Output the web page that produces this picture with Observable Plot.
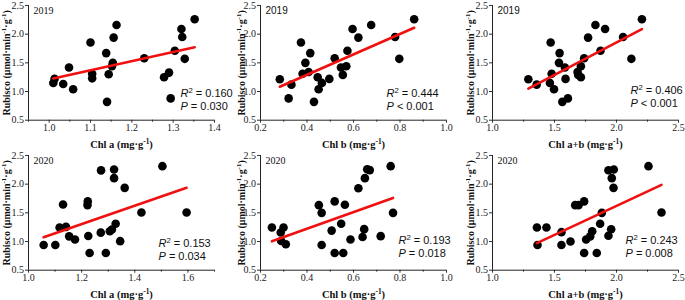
<!DOCTYPE html>
<html><head><meta charset="utf-8">
<script src="https://cdn.jsdelivr.net/npm/d3@7"></script>
<script src="https://cdn.jsdelivr.net/npm/@observablehq/plot@0.6"></script>
<style>
body{margin:0;background:#fff;}
#chart{position:relative;width:685px;height:300px;overflow:hidden;background:#fff;}
#chart svg{position:absolute;overflow:visible;}
</style></head><body><div id="chart"></div>
<script>
// ---- data ----
const chlA2019 = [1.010,1.013,1.034,1.048,1.058,1.100,1.104,1.104,1.138,1.140,1.144,1.152,1.154,1.156,1.163,1.230,1.278,1.290,1.294,1.304,1.320,1.322,1.328,1.352];
const rubA2019 = [1.15,1.22,1.13,1.42,1.04,1.855,1.31,1.23,1.67,0.82,1.30,1.44,1.50,1.94,2.16,1.58,1.25,1.33,0.88,1.71,2.09,1.95,1.57,2.26];
const chlB2019 = [0.283,0.321,0.333,0.374,0.381,0.393,0.407,0.414,0.430,0.446,0.450,0.464,0.496,0.519,0.546,0.554,0.569,0.574,0.596,0.621,0.676,0.779,0.797,0.861];
const rubB2019 = [1.215,0.88,1.12,1.855,1.31,1.50,1.34,1.67,0.82,1.25,1.04,1.15,1.22,1.58,1.42,1.29,1.44,1.71,2.09,1.94,2.16,1.95,1.57,2.26];
const chlAB2019 = [1.289,1.356,1.469,1.463,1.477,1.496,1.541,1.536,1.563,1.584,1.589,1.608,1.686,1.691,1.713,1.713,1.739,1.771,1.830,1.871,1.908,2.053,2.120,2.205];
const rubAB2019 = [1.215,1.12,1.855,1.15,1.31,1.04,1.67,1.50,0.82,1.42,1.22,0.88,1.34,1.29,1.25,1.44,1.58,1.94,2.16,1.71,2.09,1.95,1.57,2.26];
const chlA2020 = [1.057,1.101,1.117,1.130,1.141,1.153,1.175,1.223,1.222,1.225,1.230,1.273,1.272,1.291,1.306,1.314,1.322,1.322,1.328,1.345,1.362,1.425,1.504,1.595];
const rubA2020 = [0.94,0.94,1.245,1.645,1.255,1.09,1.035,1.70,1.635,1.095,0.80,2.24,1.155,0.80,1.18,1.21,2.256,2.105,1.31,1.006,1.936,1.506,2.314,1.506];
const chlB2020 = [0.249,0.287,0.299,0.289,0.309,0.451,0.463,0.463,0.506,0.519,0.519,0.547,0.556,0.563,0.587,0.621,0.639,0.646,0.649,0.659,0.670,0.717,0.760,0.770];
const rubB2020 = [1.244,1.157,1.244,1.01,0.953,1.634,1.50,0.94,1.19,1.70,0.80,1.31,0.80,1.64,1.035,1.93,1.08,1.216,2.105,2.26,2.245,1.094,2.314,1.50];
const chlAB2020 = [1.358,1.363,1.435,1.556,1.556,1.629,1.667,1.694,1.739,1.739,1.755,1.788,1.804,1.841,1.868,1.882,1.935,1.935,1.957,1.962,1.978,1.976,2.258,2.363];
const rubAB2020 = [1.245,0.94,1.245,1.163,0.94,1.0,1.634,1.634,1.70,0.80,1.035,1.09,1.18,0.80,1.31,1.5,2.244,1.10,1.215,2.105,2.256,1.936,2.314,1.506];

const years = ["2019","2019","2019","2020","2020","2020"];
const xLabels = ["Chl a (mg·g^{-1})","Chl b (mg·g^{-1})","Chl a+b (mg·g^{-1})","Chl a (mg·g^{-1})","Chl b (mg·g^{-1})","Chl a+b (mg·g^{-1})"];
const yLabel = "Rubisco (μmol·min^{-1}·g^{-1})";
const r2Values = ["0.160","0.444","0.406","0.153","0.193","0.243"];
const pValues = ["= 0.030","< 0.001","< 0.001","= 0.034","= 0.018","= 0.008"];
const yTicks = [0.5,1.0,1.5,2.0,2.5];
const xTicksA2019 = [1.0,1.1,1.2,1.3,1.4];
const xTicksB = [0.2,0.4,0.6,0.8,1.0];
const xTicksAB = [1.0,1.5,2.0,2.5];
const xTicksA2020 = [1.0,1.2,1.4,1.6];

// ---- layout ----
const panels = [
  {x: chlA2019, y: rubA2019, domain:[0.95,1.4], ticks:xTicksA2019, minor:[0.95,1.05,1.15,1.25,1.35], col:0, row:0, yearFont:"Liberation Serif", sdx:152, sdy:88},
  {x: chlB2019, y: rubB2019, domain:[0.2,1.0], ticks:xTicksB, minor:[0.3,0.5,0.7,0.9], col:1, row:0, yearFont:"Liberation Sans", sdx:126, sdy:88},
  {x: chlAB2019, y: rubAB2019, domain:[1.0,2.5], ticks:xTicksAB, minor:[1.25,1.75,2.25], col:2, row:0, yearFont:"Liberation Sans", sdx:138, sdy:85},
  {x: chlA2020, y: rubA2020, domain:[1.0,1.7], ticks:xTicksA2020, minor:[1.1,1.3,1.5,1.7], col:0, row:1, yearFont:"Liberation Serif", sdx:130, sdy:88},
  {x: chlB2020, y: rubB2020, domain:[0.2,1.0], ticks:xTicksB, minor:[0.3,0.5,0.7,0.9], col:1, row:1, yearFont:"Liberation Serif", sdx:138, sdy:85},
  {x: chlAB2020, y: rubAB2020, domain:[1.0,2.5], ticks:xTicksAB, minor:[1.25,1.75,2.25], col:2, row:1, yearFont:"Liberation Serif", sdx:133, sdy:85}
];
const axisLeft = [28, 260, 492];
const yLabelDx = [-22, -19, -22];
const rowTop = [4.7, 154.7];
const ML = 40, MT = 10, PW = 186, PH = 114.7, MB = 30, MR = 4;

function rich(svg){
  d3.select(svg).selectAll("text").each(function(){
    const t = this.textContent;
    if(!/[\*\^]/.test(t)) return;
    const sel = d3.select(this); sel.text(null);
    const re = /\*([^*]+)\*|\^\{([^}]+)\}|([^*^]+)/g; let m;
    while((m = re.exec(t))){
      if(m[1]) sel.append("tspan").attr("font-style","italic").text(m[1]);
      else if(m[2]) sel.append("tspan").attr("baseline-shift","super").attr("font-size","70%").text(m[2]);
      else sel.append("tspan").text(m[3]);
    }
  });
}

const chart = document.getElementById("chart");
const fmt = d3.format(".1f");
panels.forEach((p, i) => {
  const data = p.x.map((v, k) => ({x: v, y: p.y[k]}));
  const svg = Plot.plot({
    width: ML + PW + MR, height: MT + PH + MB,
    marginLeft: ML, marginRight: MR, marginTop: MT, marginBottom: MB,
    x: {domain: p.domain, label: null},
    y: {domain: [0.5, 2.5], label: null},
    style: {fontFamily: "Liberation Serif", fontSize: "10px", color: "#222", background: "transparent", overflow: "visible"},
    marks: [
      Plot.axisY({ticks: yTicks, tickFormat: fmt, tickSize: 3, tickPadding: 1.5, label: null, stroke: "#333"}),
      Plot.axisX({ticks: p.ticks, tickFormat: fmt, tickSize: 3, tickPadding: 1, label: null, stroke: "#333"}),
      Plot.axisX({ticks: p.minor, tickFormat: () => "", tickSize: 2, label: null, stroke: "#333"}),
      Plot.ruleX([p.domain[0]], {stroke: "#222"}),
      Plot.ruleY([0.5], {stroke: "#222"}),
      Plot.dot(data, {x: "x", y: "y", r: 4.3, fill: "#000", stroke: "none"}),
      Plot.linearRegressionY(data, {x: "x", y: "y", stroke: "#f01010", strokeWidth: 2.6, ci: 0}),
      Plot.text([years[i]], {frameAnchor: "top-left", dx: 5, dy: 5.5, text: d => d, textAnchor: "start", lineAnchor: "middle", fontFamily: p.yearFont, fontSize: 10, fill: "#111"}),
      Plot.text([r2Values[i]], {frameAnchor: "top-left", dx: p.sdx, dy: p.sdy, text: d => "*R*^{2} = " + d, textAnchor: "start", lineAnchor: "middle", fontFamily: "Liberation Sans", fontSize: 11, fill: "#111"}),
      Plot.text([pValues[i]], {frameAnchor: "top-left", dx: p.sdx, dy: p.sdy + 13, text: d => "*P* " + d, textAnchor: "start", lineAnchor: "middle", fontFamily: "Liberation Sans", fontSize: 11, fill: "#111"}),
      Plot.text([xLabels[i]], {frameAnchor: "bottom", dy: 24, text: d => d, textAnchor: "middle", lineAnchor: "middle", fontFamily: "Liberation Serif", fontWeight: "bold", fontSize: 10.5, fill: "#111"}),
      Plot.text([yLabel], {frameAnchor: "left", dx: yLabelDx[p.col], rotate: -90, text: d => d, textAnchor: "middle", lineAnchor: "middle", fontFamily: "Liberation Serif", fontWeight: "bold", fontSize: 10, fill: "#111"})
    ]
  });
  rich(svg);
  svg.style.left = (axisLeft[p.col] - ML) + "px";
  svg.style.top = (rowTop[p.row] - MT) + "px";
  chart.appendChild(svg);
});
</script></body></html>
